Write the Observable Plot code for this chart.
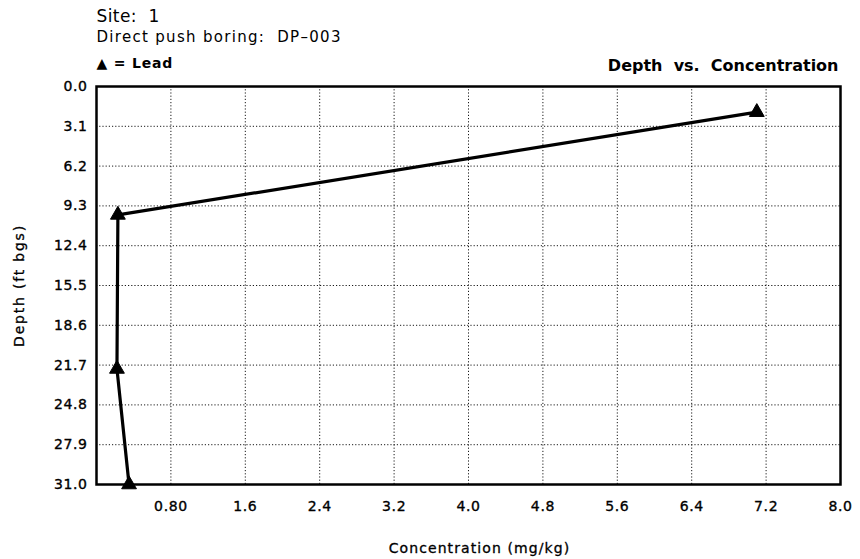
<!DOCTYPE html>
<html>
<head>
<meta charset="utf-8">
<script src="https://cdn.jsdelivr.net/npm/d3@7"></script>
<script src="https://cdn.jsdelivr.net/npm/@observablehq/plot@0.6"></script>
<style>
  html, body { margin: 0; padding: 0; background: #fff; }
  #chart svg { display: block; }
  #chart svg g[aria-label="x-axis tick label"] text,
  #chart svg g[aria-label="y-axis tick label"] text { stroke: #000; stroke-width: 0.35px; letter-spacing: 0.6px; }
  #chart svg g[aria-label="y-axis label"] text { letter-spacing: 1.8px; stroke: #000; stroke-width: 0.3px; }
</style>
</head>
<body>
<div id="chart"></div>
<script>
// Data
const depth = [2.0, 10.0, 22.0, 31.0];          // ft bgs
const lead = [7.1, 0.23, 0.22, 0.35];            // mg/kg
const xTicks = [0.8, 1.6, 2.4, 3.2, 4.0, 4.8, 5.6, 6.4, 7.2, 8.0];
const xTickLabels = ["0.80", "1.6", "2.4", "3.2", "4.0", "4.8", "5.6", "6.4", "7.2", "8.0"];
const yTicks = [0.0, 3.1, 6.2, 9.3, 12.4, 15.5, 18.6, 21.7, 24.8, 27.9, 31.0];
const yTickLabels = ["0.0", "3.1", "6.2", "9.3", "12.4", "15.5", "18.6", "21.7", "24.8", "27.9", "31.0"];

const rows = depth.map((d, i) => ({depth: d, lead: lead[i]}));

const font = "'DejaVu Sans', sans-serif";
const fx = (d) => xTickLabels[xTicks.indexOf(d)];
const fy = (d) => yTickLabels[yTicks.indexOf(d)];

const chart = Plot.plot({
  width: 860,
  height: 559,
  marginLeft: 96,
  marginRight: 20,
  marginTop: 86,
  marginBottom: 75,
  style: {fontFamily: font, fontSize: "13px", color: "#000", background: "#fff"},
  x: {domain: [0, 8]},
  y: {domain: [0, 31], reverse: true},
  marks: [
    Plot.gridX(xTicks, {stroke: "#000", strokeOpacity: 0.9, strokeDasharray: "1.2,2"}),
    Plot.gridY(yTicks, {stroke: "#000", strokeOpacity: 0.9, strokeDasharray: "1.2,2"}),
    Plot.frame({stroke: "#000", strokeWidth: 2.5}),
    Plot.axisX({ticks: xTicks, tickFormat: fx, tickSize: 0, tickPadding: 17, fontSize: 14, label: null}),
    Plot.axisY({ticks: yTicks, tickFormat: fy, tickSize: 0, tickPadding: 9, fontSize: 14,
      label: "Depth (ft bgs)", labelAnchor: "center", labelArrow: "none", labelOffset: 82}),
    Plot.line(rows, {x: "lead", y: "depth", stroke: "#000", strokeWidth: 3.2}),
    Plot.dot(rows, {x: "lead", y: "depth", symbol: "triangle", r: 5.5, fill: "#000", stroke: "#000", strokeWidth: 1}),
    // x-axis title
    Plot.text(["Concentration (mg/kg)"], {frameAnchor: "bottom", textAnchor: "middle", lineAnchor: "middle", dx: 11, dy: 64,
      fontSize: 14, stroke: "#000", strokeWidth: 0.3, fill: "#000", letterSpacing: "1.1px", style: "letter-spacing:1.1px"}),
    // header texts
    Plot.text(["Site:  1"], {frameAnchor: "top-left", textAnchor: "start", lineAnchor: "middle", dy: -70, fontSize: 17}),
    Plot.text(["Direct push boring:  DP\u2013003"], {frameAnchor: "top-left", textAnchor: "start", lineAnchor: "middle", dy: -49, fontSize: 15}),
    Plot.text(["\u25B2 = Lead"], {frameAnchor: "top-left", textAnchor: "start", lineAnchor: "middle", dy: -23, fontSize: 14, fontWeight: "bold"}),
    Plot.text(["Depth  vs.  Concentration"], {frameAnchor: "top-right", textAnchor: "end", lineAnchor: "middle", dx: -2, dy: -21, fontSize: 16, fontWeight: "bold"})
  ]
});

// letter spacing on header/x-label texts to match the wide original lettering
const setSpacing = (label, ls) => {
  chart.querySelectorAll("text").forEach((t) => {
    if (t.textContent === label) t.style.letterSpacing = ls;
  });
};
setSpacing("Site:  1", "0.4px");
setSpacing("Direct push boring:  DP\u2013003", "1.3px");
setSpacing("\u25B2 = Lead", "0.8px");
setSpacing("Concentration (mg/kg)", "1.1px");

document.getElementById("chart").appendChild(chart);
</script>
</body>
</html>
